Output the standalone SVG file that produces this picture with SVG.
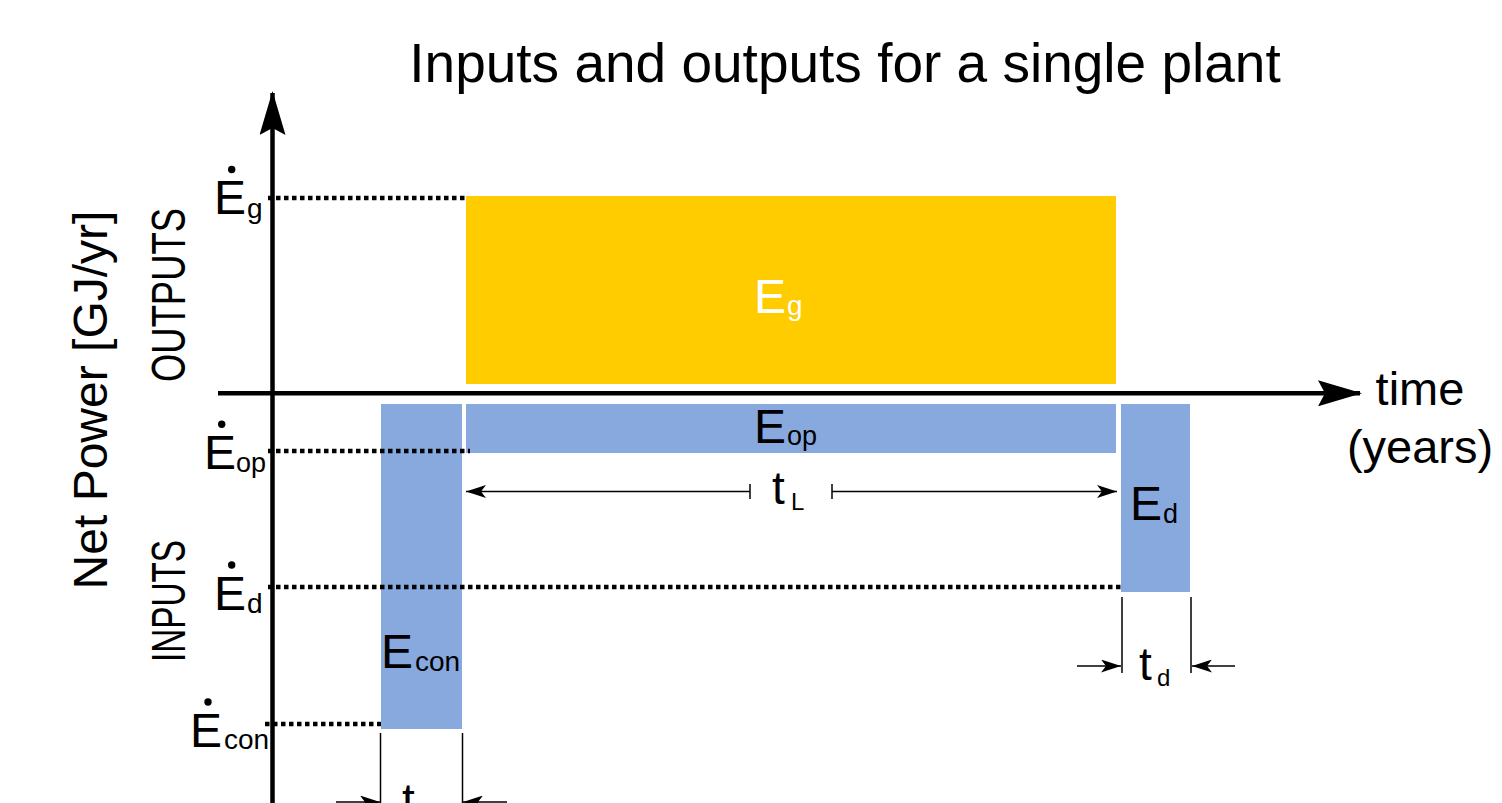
<svg xmlns="http://www.w3.org/2000/svg" width="1502" height="803" viewBox="0 0 1502 803">
<style>
text{font-family:"Liberation Sans",Arial,sans-serif;fill:#000}
.big{font-size:48px}
.sub{font-size:28px}
.white{fill:#fff}
.blue{fill:#87A9DE}
.yellow{fill:#FFCC00}
.axis{stroke:#000;stroke-width:4.5;fill:none}
.dot{stroke:#000;stroke-width:4.5;stroke-dasharray:4.5 3.5;fill:none}
.dim{stroke:#000;stroke-width:1.5;fill:none}
.acc{fill:#000}
</style>
<defs>
<marker id="axArrow" viewBox="0 0 44 26" markerWidth="44" markerHeight="26" refX="42" refY="13" orient="auto" markerUnits="userSpaceOnUse">
<path d="M0,0 L44,13 L0,26 L7,13 Z" fill="#000"/>
</marker>
<marker id="dimArrow" viewBox="0 0 20 13" markerWidth="20" markerHeight="13" refX="20" refY="6.5" orient="auto" markerUnits="userSpaceOnUse">
<path d="M0,0 L20,6.5 L0,13 L5,6.5 Z" fill="#000"/>
</marker>
</defs>
<rect width="1502" height="803" fill="#fff"/>
<text id="title" x="845" y="82" font-size="55" text-anchor="middle">Inputs and outputs for a single plant</text>
<g id="nodes">
<g id="Eg"><rect class="yellow" x="466" y="196" width="650" height="188"/><text class="big white" x="754" y="313">E<tspan class="sub white" x="787" y="315">g</tspan></text></g>
<g id="Eop"><rect class="blue" x="466" y="404" width="650" height="49"/><text class="big" x="754" y="443">E<tspan font-size="27" x="787" y="445">op</tspan></text></g>
<g id="Econ"><rect class="blue" x="381" y="404" width="81" height="325"/><text class="big" x="381" y="668">E<tspan class="sub" x="415" y="671">con</tspan></text></g>
<g id="Ed"><rect class="blue" x="1121" y="404" width="69" height="188"/><text class="big" x="1130" y="520">E<tspan font-size="27" x="1163" y="523">d</tspan></text></g>
</g>
<g id="axes">
<line class="axis" x1="272.5" y1="803" x2="272.5" y2="93" marker-end="url(#axArrow)"/>
<line class="axis" x1="218" y1="393.3" x2="1360" y2="393.3" marker-end="url(#axArrow)"/>
<text class="big" transform="translate(107,400) rotate(-90)" text-anchor="middle">Net Power [GJ/yr]</text>
<text class="big" transform="translate(185,382) rotate(-90)" textLength="174" lengthAdjust="spacingAndGlyphs">OUTPUTS</text>
<text class="big" transform="translate(185,662) rotate(-90)" textLength="122" lengthAdjust="spacingAndGlyphs">INPUTS</text>
<text font-size="47" x="1420" y="405" text-anchor="middle">time</text>
<text font-size="47" x="1420" y="463" text-anchor="middle">(years)</text>
</g>
<g id="rate-labels">
<text class="big" x="214" y="214">E<tspan class="sub" x="247" y="218">g</tspan></text>
<circle class="acc" cx="231.7" cy="169.5" r="3.7"/>
<text class="big" x="204" y="469">E<tspan font-size="27" x="236" y="472">op</tspan></text>
<circle class="acc" cx="221.7" cy="424.3" r="3.7"/>
<text class="big" x="214" y="610">E<tspan class="sub" x="247" y="613">d</tspan></text>
<circle class="acc" cx="231.7" cy="565" r="3.7"/>
<text class="big" x="190" y="747">E<tspan class="sub" x="224" y="749">con</tspan></text>
<circle class="acc" cx="208" cy="702" r="3.7"/>
</g>
<g id="connectors">
<line class="dot" x1="268" y1="198" x2="466" y2="198"/>
<line class="dot" x1="268" y1="451" x2="470" y2="451"/>
<line class="dot" x1="268" y1="587" x2="1122" y2="587"/>
<line class="dot" x1="265" y1="724" x2="381" y2="724"/>
<line class="dim" x1="750" y1="491.5" x2="466" y2="491.5" marker-end="url(#dimArrow)"/>
<line class="dim" x1="750" y1="484" x2="750" y2="499"/>
<line class="dim" x1="832" y1="491.5" x2="1117" y2="491.5" marker-end="url(#dimArrow)"/>
<line class="dim" x1="832" y1="484" x2="832" y2="499"/>
<line class="dim" x1="1122" y1="597" x2="1122" y2="673"/>
<line class="dim" x1="1191" y1="597" x2="1191" y2="673"/>
<line class="dim" x1="1077" y1="666" x2="1121" y2="666" marker-end="url(#dimArrow)"/>
<line class="dim" x1="1235" y1="666" x2="1192" y2="666" marker-end="url(#dimArrow)"/>
<line class="dim" x1="380.5" y1="733" x2="380.5" y2="803"/>
<line class="dim" x1="462.5" y1="733" x2="462.5" y2="803"/>
<line class="dim" x1="336" y1="802" x2="380" y2="802" marker-end="url(#dimArrow)"/>
<line class="dim" x1="507" y1="802" x2="463" y2="802" marker-end="url(#dimArrow)"/>
</g>
<g id="dim-labels">
<text font-size="46" x="772" y="504">t<tspan font-size="24" x="791" y="510">L</tspan></text>
<text font-size="46" x="1139" y="680">t<tspan font-size="24" x="1157" y="686">d</tspan></text>
<text font-size="46" x="402" y="816">t</text>
</g>
</svg>
